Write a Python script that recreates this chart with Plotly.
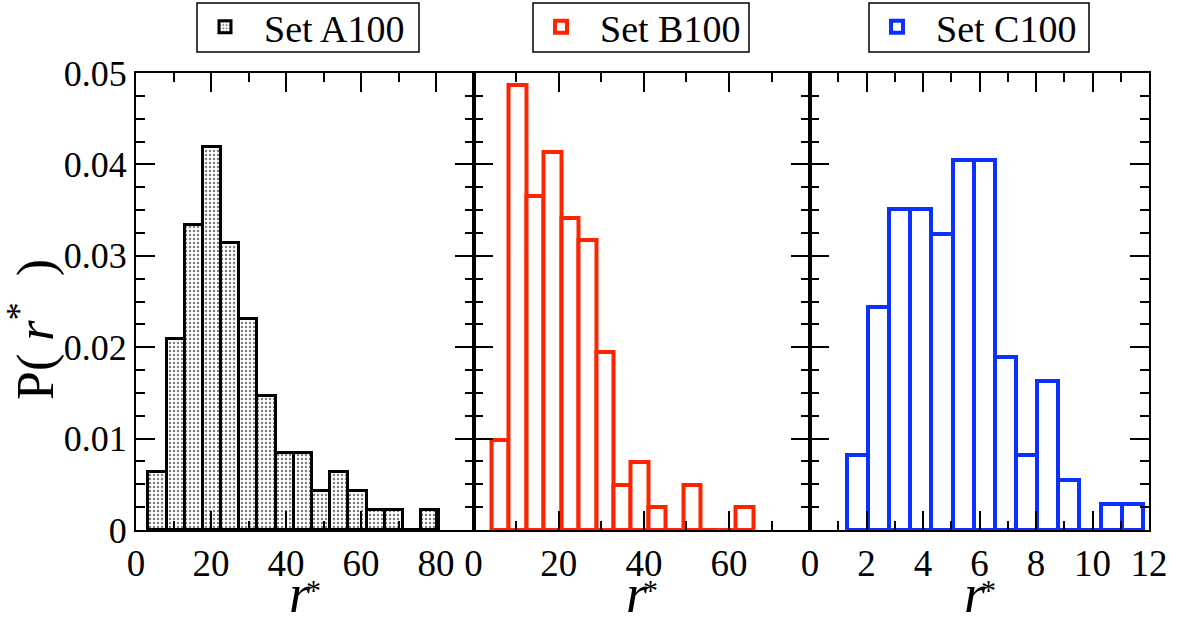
import numpy as np
import plotly.graph_objects as go

# ---------------- data ----------------
a_name = "Set A100"
b_name = "Set B100"
c_name = "Set C100"

# histogram bin layout (first left edge, bin width)
a_bin_start, a_bin_width = 3.29, 4.85
b_bin_start, b_bin_width = 4.17, 4.10
c_bin_start, c_bin_width = 1.30, 0.749

a_density = [0.0063, 0.0209, 0.0334, 0.0419, 0.0314, 0.0231, 0.0147, 0.0084,
             0.0084, 0.0043, 0.0063, 0.0043, 0.0022, 0.0022, 0.0, 0.0022]
b_density = [0.0099, 0.0487, 0.0365, 0.0414, 0.0341, 0.0317, 0.0195, 0.0049,
             0.0074, 0.0025, 0.0, 0.0049, 0.0, 0.0, 0.0025]
c_density = [0.0082, 0.0244, 0.0351, 0.0351, 0.0324, 0.0405, 0.0405, 0.0189,
             0.0082, 0.0163, 0.0055, 0.0, 0.0028, 0.0028]

a_range = [0, 90]
b_range = [0, 79]
c_range = [0, 12]
y_range = [0, 0.05]

FONT = "Liberation Serif, Times New Roman, serif"


def centers(start, width, n):
    return [start + width * (i + 0.5) for i in range(n)]


W, H = 1179, 622
L, T = 136, 73
R = W - 1149
B = H - 530
pw = W - L - R
ph = H - T - B


def px_x(p):
    return (p - L) / pw


def px_y(p):
    return (H - B - p) / ph


fig = go.Figure()

fig.add_trace(go.Bar(
    x=centers(a_bin_start, a_bin_width, len(a_density)), y=a_density,
    width=a_bin_width, name="\u00a0\u00a0" + a_name, xaxis="x", yaxis="y",
    marker=dict(color="white", line=dict(color="black", width=3),
                pattern=dict(shape=".", fgcolor="black", bgcolor="white",
                             size=4, solidity=0.3)),
    legend="legend", showlegend=True,
))
fig.add_trace(go.Bar(
    x=centers(b_bin_start, b_bin_width, len(b_density)), y=b_density,
    width=b_bin_width, name="\u00a0\u00a0" + b_name, xaxis="x2", yaxis="y2",
    marker=dict(color="white", line=dict(color="#ff2400", width=4)),
    legend="legend2", showlegend=True,
))
fig.add_trace(go.Bar(
    x=centers(c_bin_start, c_bin_width, len(c_density)), y=c_density,
    width=c_bin_width, name="\u00a0\u00a0" + c_name, xaxis="x3", yaxis="y3",
    marker=dict(color="white", line=dict(color="#0c30ff", width=4)),
    legend="legend3", showlegend=True,
))

d1 = px_x(473.5)
d2 = px_x(810)

common_x = dict(showline=True, linecolor="black", linewidth=2, mirror="ticks",
                ticks="inside", ticklen=19, tickwidth=2, tickcolor="black",
                showgrid=False, zeroline=False,
                tickfont=dict(family=FONT, size=37, color="black"))
common_y = dict(showline=True, linecolor="black", linewidth=2, mirror="ticks",
                ticks="inside", ticklen=19, tickwidth=2, tickcolor="black",
                showgrid=False, zeroline=False, range=y_range, dtick=0.01,
                tick0=0,
                minor=dict(dtick=0.0025, ticklen=9, tickwidth=2,
                           tickcolor="black", ticks="inside"),
                tickfont=dict(family=FONT, size=36, color="black"))

fig.update_layout(
    width=W, height=H,
    margin=dict(l=L, r=R, t=T, b=B, autoexpand=False),
    showlegend=True,
    plot_bgcolor="white", paper_bgcolor="white",
    bargap=0, barmode="overlay",
    xaxis=dict(domain=[0, d1], range=a_range, dtick=20, tick0=0,
               minor=dict(dtick=10, ticklen=9, tickwidth=2, tickcolor="black",
                          ticks="inside"), **common_x),
    xaxis2=dict(domain=[d1, d2], range=b_range, dtick=20, tick0=0,
                minor=dict(dtick=10, ticklen=9, tickwidth=2, tickcolor="black",
                           ticks="inside"), **common_x),
    xaxis3=dict(domain=[d2, 1], range=c_range, dtick=2, tick0=0,
                minor=dict(dtick=1, ticklen=9, tickwidth=2, tickcolor="black",
                           ticks="inside"), **common_x),
    yaxis=dict(anchor="x", **common_y),
    yaxis2=dict(anchor="x2", showticklabels=False, **common_y),
    yaxis3=dict(anchor="x3", showticklabels=False, **common_y),
)

# legends: transparent plotly legends placed inside drawn boxes
leg_common = dict(bgcolor="rgba(0,0,0,0)", borderwidth=0,
                  font=dict(family=FONT, size=38, color="black"),
                  xanchor="left", yanchor="middle", y=px_y(27),
                  orientation="h")
fig.update_layout(
    legend=dict(x=px_x(205), **leg_common),
    legend2=dict(x=px_x(541), **leg_common),
    legend3=dict(x=px_x(877), **leg_common),
)
for x0, x1 in [(197, 419), (533, 749), (869, 1089)]:
    fig.add_shape(type="rect", xref="paper", yref="paper",
                  x0=px_x(x0), x1=px_x(x1), y0=px_y(3), y1=px_y(52),
                  line=dict(color="black", width=1.5), fillcolor="white",
                  layer="below")

# x-axis titles: italic r with a small asterisk
for cx in [(136 + 473.5) / 2, (473.5 + 810) / 2, (810 + 1149) / 2]:
    fig.add_annotation(text="<i>r</i>", xref="paper", yref="paper",
                       x=px_x(cx - 5), y=px_y(594), xanchor="center",
                       yanchor="middle", showarrow=False,
                       font=dict(family=FONT, size=54, color="black"))
    fig.add_annotation(text="*", xref="paper", yref="paper",
                       x=px_x(cx + 9), y=px_y(589), xanchor="center",
                       yanchor="middle", showarrow=False,
                       font=dict(family=FONT, size=30, color="black"))

fig.add_annotation(text="P(\u00a0<i>r</i><sup>*</sup>\u00a0\u00a0)",
                   xref="paper", yref="paper",
                   x=px_x(32), y=px_y(330), xanchor="center", yanchor="middle",
                   textangle=-90, showarrow=False,
                   font=dict(family=FONT, size=52, color="black"))

fig.write_html("out.html",
               config={"displayModeBar": False},
               post_script="document.body.style.margin='0px';")
